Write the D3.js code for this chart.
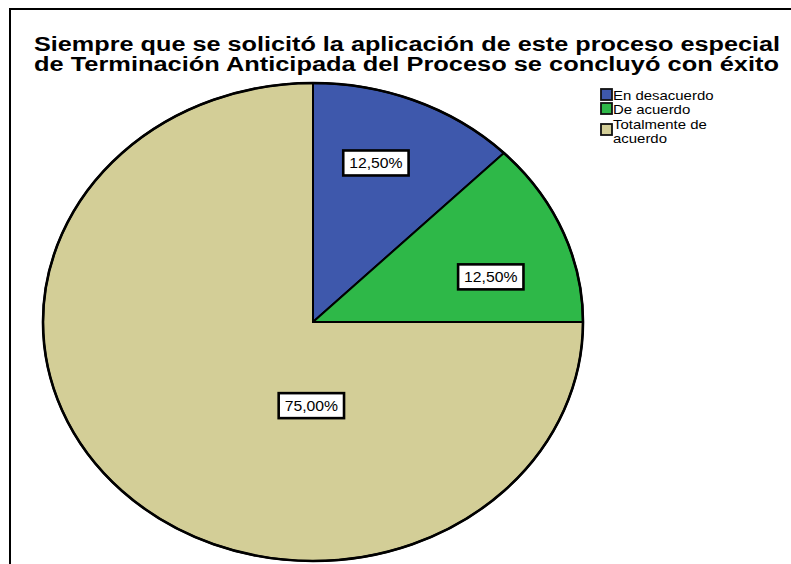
<!DOCTYPE html>
<html><head><meta charset="utf-8">
<script src="https://cdn.jsdelivr.net/npm/d3@7"></script>
<style>body{margin:0;background:#fff} svg{display:block}</style>
</head><body><svg id="c" width="791" height="564"></svg>
<script>
const categories = ["En desacuerdo", "De acuerdo", "Totalmente de acuerdo"];
const values = [12.5, 12.5, 75];
const valueLabels = ["12,50%", "12,50%", "75,00%"];
const colors = ["#3E58AC", "#2EB848", "#D3CE97"];
const titleLines = ["Siempre que se solicitó la aplicación de este proceso especial",
                    "de Terminación Anticipada del Proceso se concluyó con éxito"];
const legendLines = [["En desacuerdo"], ["De acuerdo"], ["Totalmente de", "acuerdo"]];

const svg = d3.select("#c");
const font = "'Liberation Sans', Arial, sans-serif";
const sx = 270 / 239;

// frame
svg.append("path").attr("d", "M10,564 V9 H791").attr("fill", "none")
  .attr("stroke", "#000").attr("stroke-width", 2);

// title
const titleBase = [51, 71];
const titleWidth = [746, 745];
titleLines.forEach((t, i) => {
  svg.append("text").attr("x", 34).attr("y", titleBase[i])
    .attr("font-family", font).attr("font-weight", "bold").attr("font-size", 19.5)
    .attr("fill", "#000").attr("textLength", titleWidth[i])
    .attr("lengthAdjust", "spacingAndGlyphs").text(t);
});

// pie
const R = 239, cx = 313, cy = 322;
const pie = d3.pie().sort(null).value(d => d)(values);
const arc = d3.arc().innerRadius(0).outerRadius(R);
const g = svg.append("g").attr("transform", `translate(${cx},${cy}) scale(${sx},1)`);
g.selectAll("path.slice").data(pie).join("path").attr("class", "slice")
  .attr("d", arc).attr("fill", (d, i) => colors[i])
  .attr("stroke", "#000").attr("stroke-width", 2).attr("vector-effect", "non-scaling-stroke");
g.append("circle").attr("r", R).attr("fill", "none").attr("stroke", "#000")
  .attr("stroke-width", 2.6).attr("vector-effect", "non-scaling-stroke");

// labels
const placement = [{da: -3.2, r: 0.705}, {da: 6.5, r: 0.685}, {abs: 181, r: 0.35}];
pie.forEach((d, i) => {
  const p = placement[i];
  const mid = (d.startAngle + d.endAngle) / 2;
  const a = p.abs !== undefined ? p.abs * Math.PI / 180 : mid + p.da * Math.PI / 180;
  const x = cx + Math.sin(a) * R * p.r * sx;
  const y = cy - Math.cos(a) * R * p.r;
  const lg = svg.append("g").attr("transform", `translate(${x},${y})`);
  const rect = lg.append("rect");
  const t = lg.append("text").attr("font-family", font).attr("font-size", 15)
    .attr("text-anchor", "middle").attr("y", 5.5).attr("fill", "#000")
    .attr("transform", `scale(1.05,1)`).text(valueLabels[i]);
  const w = t.node().getComputedTextLength() * 1.05 + 12;
  const h = 25;
  rect.attr("x", -w / 2).attr("y", -h / 2).attr("width", w).attr("height", h)
    .attr("fill", "#fff").attr("stroke", "#000").attr("stroke-width", 2.6);
});

// legend
const legendSquareTop = [89, 103, 124];
const legendBase = [[100], [114], [128.5], [142.5]];
let lineIdx = 0;
legendLines.forEach((lines, i) => {
  svg.append("rect").attr("x", 601).attr("y", legendSquareTop[i]).attr("width", 11).attr("height", 11)
    .attr("fill", colors[i]).attr("stroke", "#111").attr("stroke-width", 1.8);
  lines.forEach(ln => {
    svg.append("text").attr("font-family", font).attr("font-size", 13).attr("fill", "#000")
      .attr("transform", `translate(613,${legendBase[lineIdx++][0]}) scale(1.15,1)`)
      .text(ln);
  });
});
</script></body></html>
